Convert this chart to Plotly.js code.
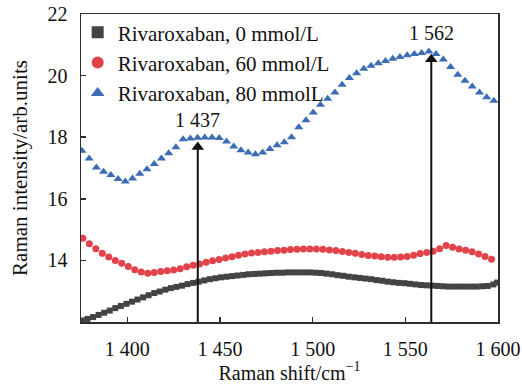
<!DOCTYPE html>
<html>
<head>
<meta charset="utf-8">
<script src="https://cdn.plot.ly/plotly-3.0.1.min.js"></script>
<style>html,body{margin:0;padding:0;background:#fff;}#chart{width:522px;height:389px;}</style>
</head>
<body>
<div id="chart"></div>
<script>
// ---- data ----
const seriesNames = ["Rivaroxaban, 0 mmol/L", "Rivaroxaban, 60 mmol/L", "Rivaroxaban, 80 mmolL"];

const x0 = [1375.5,1378.5,1381.5,1384.5,1387.5,1390.5,1393.5,1396.5,1399.5,1402.5,1405.5,1408.5,1411.5,1414.5,1417.5,1420.5,1423.5,1426.5,1429.5,1432.5,1435.5,1438.5,1441.5,1444.5,1447.5,1450.5,1453.5,1456.5,1459.5,1462.5,1465.5,1468.5,1471.5,1474.5,1477.5,1480.5,1483.5,1486.5,1489.5,1492.5,1495.5,1498.5,1501.5,1504.5,1507.5,1510.5,1513.5,1516.5,1519.5,1522.5,1525.5,1528.5,1531.5,1534.5,1537.5,1540.5,1543.5,1546.5,1549.5,1552.5,1555.5,1558.5,1561.5,1564.5,1567.5,1570.5,1573.5,1576.5,1579.5,1582.5,1585.5,1588.5,1591.5,1594.5,1597.5,1599.5];
const y0 = [12.05,12.10,12.16,12.23,12.30,12.37,12.45,12.52,12.59,12.66,12.73,12.80,12.87,12.94,12.99,13.05,13.10,13.14,13.18,13.23,13.27,13.31,13.35,13.39,13.42,13.45,13.47,13.49,13.51,13.53,13.55,13.56,13.57,13.58,13.59,13.60,13.60,13.61,13.61,13.61,13.61,13.61,13.60,13.59,13.57,13.55,13.52,13.50,13.47,13.45,13.43,13.41,13.39,13.36,13.34,13.31,13.29,13.27,13.26,13.24,13.22,13.20,13.19,13.18,13.17,13.16,13.15,13.15,13.15,13.15,13.15,13.15,13.16,13.17,13.22,13.28];

const x60 = [1376.0,1379.5,1383.0,1386.5,1390.0,1393.5,1397.0,1400.5,1404.0,1407.5,1411.0,1414.5,1418.0,1421.5,1425.0,1428.5,1432.0,1435.5,1439.0,1442.5,1446.0,1449.5,1453.0,1456.5,1460.0,1463.5,1467.0,1470.5,1474.0,1477.5,1481.0,1484.5,1488.0,1491.5,1495.0,1498.5,1502.0,1505.5,1509.0,1512.5,1516.0,1519.5,1523.0,1526.5,1530.0,1533.5,1537.0,1540.5,1544.0,1547.5,1551.0,1554.5,1558.0,1561.5,1565.0,1568.5,1572.0,1575.5,1579.0,1582.5,1586.0,1589.5,1593.0,1596.5];
const y60 = [14.72,14.54,14.38,14.23,14.11,14.00,13.91,13.80,13.70,13.62,13.58,13.61,13.64,13.66,13.69,13.73,13.79,13.84,13.88,13.94,13.99,14.03,14.08,14.12,14.17,14.21,14.24,14.26,14.28,14.30,14.32,14.33,14.35,14.36,14.37,14.37,14.37,14.36,14.34,14.32,14.29,14.26,14.23,14.19,14.16,14.14,14.12,14.10,14.10,14.11,14.13,14.17,14.22,14.26,14.30,14.38,14.48,14.43,14.37,14.33,14.28,14.21,14.13,14.04];

const x80 = [1375.5,1379.4,1383.3,1387.2,1391.1,1395.0,1398.9,1402.8,1406.7,1410.6,1414.5,1418.4,1422.3,1426.2,1430.1,1434.0,1437.9,1441.8,1445.7,1449.6,1453.5,1457.4,1461.3,1465.2,1469.1,1473.0,1476.9,1480.8,1484.7,1488.6,1492.5,1496.4,1500.3,1504.2,1508.1,1512.0,1515.9,1519.8,1523.7,1527.6,1531.5,1535.4,1539.3,1543.2,1547.1,1551.0,1554.9,1558.8,1562.7,1566.6,1570.5,1574.4,1578.3,1582.2,1586.1,1590.0,1593.9,1597.8];
const y80 = [17.56,17.31,17.02,16.88,16.77,16.64,16.56,16.66,16.81,16.96,17.13,17.31,17.48,17.67,17.93,17.96,17.98,17.99,17.99,17.97,17.86,17.70,17.58,17.50,17.45,17.50,17.62,17.74,17.84,18.00,18.32,18.55,18.80,19.05,19.25,19.45,19.70,19.92,20.08,20.22,20.32,20.40,20.47,20.55,20.60,20.66,20.70,20.73,20.78,20.70,20.52,20.28,20.03,19.83,19.65,19.45,19.30,19.18];

const peakX = [1438, 1564];
const arrowHeadY = [17.68, 20.53];
const peakLabels = ["1 437", "1 562"];
const peakLabelY = [18.55, 21.38];

const xTickVals = [1400, 1450, 1500, 1550, 1600];
const xTickText = ["1 400", "1 450", "1 500", "1 550", "1 600"];
const yTickVals = [14, 16, 18, 20, 22];
const yTickText = ["14", "16", "18", "20", "22"];

// ---- chart ----
const FONT = "Liberation Serif";
const axisColor = "#2e2e2e";
const yMin = 12;

const traces = [
  {x: x0, y: y0, name: seriesNames[0], type: "scatter", mode: "markers",
   marker: {symbol: "square", size: 6, color: "#434343"}},
  {x: x60, y: y60, name: seriesNames[1], type: "scatter", mode: "markers",
   marker: {symbol: "circle", size: 7, color: "#e2434a"}},
  {x: x80, y: y80, name: seriesNames[2], type: "scatter", mode: "markers",
   marker: {symbol: "triangle-up", size: 8, color: "#3c6db4"}}
];

// peak arrows: vertical line from the axis bottom, with a triangular head
for (let i = 0; i < peakX.length; i++) {
  traces.push({x: [peakX[i], peakX[i]], y: [yMin, arrowHeadY[i]], type: "scatter", mode: "lines",
    line: {color: "#111", width: 2}, showlegend: false, hoverinfo: "skip", cliponaxis: false});
}
traces.push({x: peakX, y: arrowHeadY, type: "scatter", mode: "markers", showlegend: false, hoverinfo: "skip",
  marker: {symbol: "triangle-up", size: 11, color: "#111"}});

const annotations = [];
for (let i = 0; i < peakX.length; i++) {
  annotations.push({
    x: peakX[i], y: peakLabelY[i], xref: "x", yref: "y",
    showarrow: false, text: peakLabels[i],
    font: {family: FONT, size: 20, color: "#111"}
  });
}

const layout = {
  width: 522, height: 389,
  margin: {l: 81, r: 24, t: 14, b: 67},
  paper_bgcolor: "#ffffff", plot_bgcolor: "#ffffff",
  font: {family: FONT, size: 20, color: "#111"},
  showlegend: true,
  legend: {x: -0.008, y: 1.006, xanchor: "left", yanchor: "top",
           bgcolor: "rgba(0,0,0,0)", font: {family: FONT, size: 21, color: "#111"},
           tracegroupgap: 0, itemsizing: "constant"},
  xaxis: {range: [1375, 1600], showgrid: false, zeroline: false,
          showline: true, linecolor: axisColor, linewidth: 1.5, mirror: true,
          ticks: "inside", ticklen: 5, tickwidth: 1.5, tickcolor: axisColor,
          tickvals: xTickVals, ticktext: xTickText, ticklabelstandoff: 8,
          tickfont: {family: FONT, size: 20, color: "#111"},
          title: {text: "Raman shift/cm<sup>−1</sup>", font: {family: FONT, size: 20, color: "#111"}, standoff: 6}},
  yaxis: {range: [12, 22], showgrid: false, zeroline: false,
          showline: true, linecolor: axisColor, linewidth: 1.5, mirror: true,
          ticks: "inside", ticklen: 5, tickwidth: 1.5, tickcolor: axisColor,
          tickvals: yTickVals, ticktext: yTickText, ticklabelstandoff: 8,
          tickfont: {family: FONT, size: 20, color: "#111"},
          title: {text: "Raman intensity/arb.units", font: {family: FONT, size: 21, color: "#111"}, standoff: 14}},
  annotations: annotations
};

Plotly.newPlot("chart", traces, layout, {displayModeBar: false, staticPlot: true});
</script>
</body>
</html>
